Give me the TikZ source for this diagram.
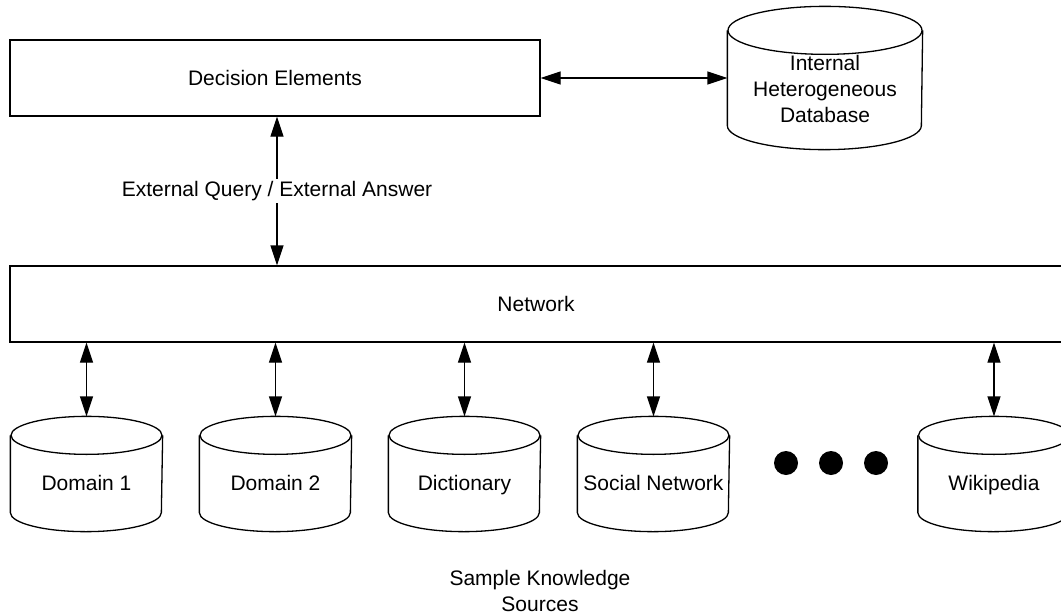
\documentclass[tikz,border=0pt]{standalone}
\usepackage{fontspec}
\setmainfont{Liberation Sans}
\usetikzlibrary{arrows.meta}
\newcommand\cylout[3]{% name, half width, ry
  \draw ([yshift=-#3]#1.north west) -- ([yshift=#3]#1.south west)
    arc[start angle=180,end angle=360,x radius=#2,y radius=#3]
    -- ([yshift=-#3]#1.north east);
  \draw ([yshift=-#3]#1.north) ellipse [x radius=#2,y radius=#3];
}
\begin{document}
\begin{tikzpicture}[x=1pt,y=-1pt,line width=1.3pt,
  txt/.style={font=\fontsize{21}{26}\selectfont,align=center,inner sep=0pt},
  cyltxt/.style={txt,text height=15.2pt,text depth=4.4pt},
  box/.style={draw,txt,minimum height=76pt},
  cylbody/.style={inner sep=0pt,minimum width=151pt,minimum height=114pt},
  biarrow/.style={{Triangle[length=20pt,width=13pt]}-{Triangle[length=20pt,width=13pt]}},
  dot/.style={circle,fill=black,inner sep=0pt,minimum size=24pt}]
\useasboundingbox (0,0) rectangle (1061,616);
\clip (0,0) rectangle (1061,616);
% top
\node[box,minimum width=530pt] (dec) at (275,78) {Decision Elements};
\node[inner sep=0pt,minimum width=194pt,minimum height=142pt] (int) at (825,78) {};
\cylout{int}{97pt}{24pt}
\node[txt] (intt) at ([yshift=-11pt]int.center) {Internal\\Heterogeneous\\Database};
\draw[biarrow] (dec.east) -- (int.west |- dec.east);
% network
\node[box,minimum width=1052pt] (net) at (536,304) {Network};
\node[txt,fill=white,inner sep=2pt] (q) at (277,191) {External Query / External Answer};
\draw[biarrow] (dec.south -| q) -- (net.north -| q);
\node[txt,fill=white,inner sep=2pt] at (277,191) {External Query / External Answer};
% sources
\foreach \n/\x/\t in {d1/86.5/Domain 1,d2/275.5/Domain 2,dic/464.5/Dictionary,soc/653.5/Social Network,wik/994/Wikipedia}{
  \node[cylbody] (\n) at (\x,474) {};
  \cylout{\n}{75.5pt}{19pt}
  \node[cyltxt] (\n t) at ([yshift=-11.2pt]\n.center) {\t};
  \draw[biarrow] (net.south -| \n) -- (\n.north);
}
\node[dot] (e1) at (786,463) {};
\node[dot] (e2) at (831,463) {};
\node[dot] (e3) at (876,463) {};
\node[txt] (src) at (540,591) {Sample Knowledge\\Sources};
\end{tikzpicture}
\end{document}
